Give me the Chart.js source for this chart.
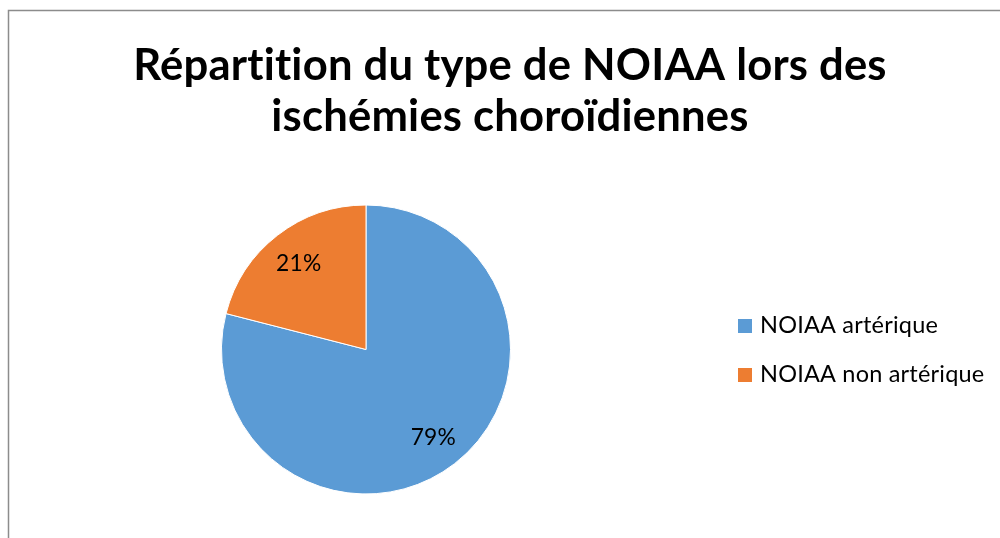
<!DOCTYPE html>
<html>
<head>
<meta charset="utf-8">
<script src="https://cdn.jsdelivr.net/npm/chart.js@4"></script>
<style>
html,body{margin:0;padding:0;background:#fff;}
#wrap{width:1000px;height:538px;position:relative;}
</style>
</head>
<body>
<div id="wrap"><canvas id="c" width="1000" height="538"></canvas></div>
<script>
const titleLines = ["Répartition du type de NOIAA lors des", "ischémies choroïdiennes"];
const categories = ["NOIAA artérique", "NOIAA non artérique"];
const values = [79, 21];
const colors = ["#5B9BD5", "#ED7D31"];

const FONT = "Lato, 'Open Sans', sans-serif";

function fitFont(ctx, text, weight, target) {
  ctx.font = weight + " 40px " + FONT;
  const w = ctx.measureText(text).width;
  return 40 * target / w;
}

const decor = {
  id: 'decor',
  afterDraw(chart) {
    const ctx = chart.ctx;
    ctx.save();
    if ('letterSpacing' in ctx) ctx.letterSpacing = "0.2px";
    // border
    ctx.strokeStyle = "#8c8c8c";
    ctx.lineWidth = 1.5;
    ctx.beginPath();
    ctx.moveTo(8.5, 600);
    ctx.lineTo(8.5, 10.5);
    ctx.lineTo(1100, 10.5);
    ctx.stroke();

    // title
    ctx.fillStyle = "#000";
    ctx.textAlign = "center";
    ctx.textBaseline = "alphabetic";
    const s1 = fitFont(ctx, titleLines[0], "bold", 755);
    ctx.font = "bold " + s1.toFixed(1) + "px " + FONT;
    ctx.fillText(titleLines[0], 510, 80);
    ctx.fillText(titleLines[1], 510, 131);

    // legend
    const ls = fitFont(ctx, categories[0], "normal", 177);
    ctx.textAlign = "left";
    categories.forEach((cat, i) => {
      const y = 319 + i * 49;
      ctx.fillStyle = colors[i];
      ctx.fillRect(738, y, 14, 14);
      ctx.fillStyle = "#000";
      ctx.font = ls.toFixed(1) + "px " + FONT;
      ctx.fillText(cat, 760, y + 14);
    });

    // percentage labels
    const meta = chart.getDatasetMeta(0);
    const ps = fitFont(ctx, "21%", "normal", 45);
    ctx.font = ps.toFixed(1) + "px " + FONT;
    ctx.textAlign = "center";
    ctx.textBaseline = "middle";
    ctx.fillStyle = "#000";
    meta.data.forEach((arc, i) => {
      const p = arc.getProps(['x','y','startAngle','endAngle','outerRadius'], true);
      const mid = (p.startAngle + p.endAngle) / 2;
      const r = p.outerRadius * 0.76;
      ctx.fillText(values[i] + "%", p.x + Math.cos(mid) * r, p.y + Math.sin(mid) * r + 1);
    });
    ctx.restore();
  }
};

new Chart(document.getElementById('c'), {
  type: 'pie',
  data: {
    labels: categories,
    datasets: [{
      data: values,
      backgroundColor: colors,
      borderColor: "#ffffff",
      borderWidth: 1
    }]
  },
  options: {
    responsive: false,
    animation: false,
    layout: { padding: { left: 221, right: 489, top: 204, bottom: 43 } },
    plugins: {
      legend: { display: false },
      tooltip: { enabled: false },
      title: { display: false }
    }
  },
  plugins: [decor]
});
</script>
</body>
</html>
